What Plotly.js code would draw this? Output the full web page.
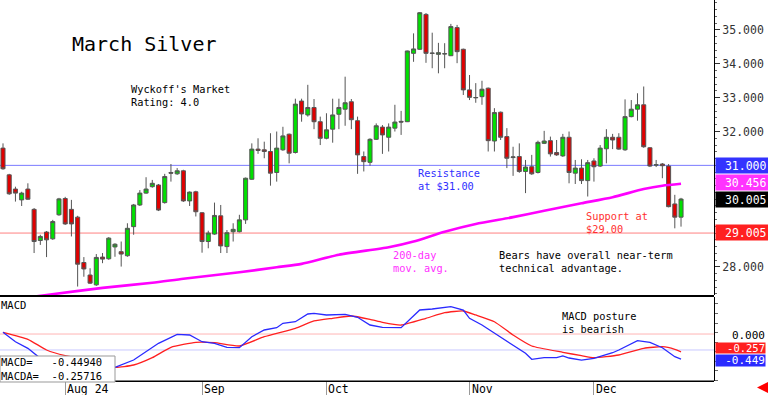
<!DOCTYPE html>
<html><head><meta charset="utf-8">
<script src="https://cdn.plot.ly/plotly-3.0.1.min.js"></script>
<style>html,body{margin:0;padding:0;background:#fff}#chart{width:768px;height:395px}</style>
</head><body><div id="chart"></div>
<script>
const dates = [
'2024-07-18','2024-07-19','2024-07-22','2024-07-23','2024-07-24','2024-07-25','2024-07-26','2024-07-29','2024-07-30','2024-07-31',
'2024-08-01','2024-08-02','2024-08-05','2024-08-06','2024-08-07','2024-08-08','2024-08-09','2024-08-12','2024-08-13','2024-08-14','2024-08-15','2024-08-16','2024-08-19','2024-08-20','2024-08-21','2024-08-22','2024-08-23','2024-08-26','2024-08-27','2024-08-28','2024-08-29','2024-08-30',
'2024-09-03','2024-09-04','2024-09-05','2024-09-06','2024-09-09','2024-09-10','2024-09-11','2024-09-12','2024-09-13','2024-09-16','2024-09-17','2024-09-18','2024-09-19','2024-09-20','2024-09-23','2024-09-24','2024-09-25','2024-09-26','2024-09-27','2024-09-30',
'2024-10-01','2024-10-02','2024-10-03','2024-10-04','2024-10-07','2024-10-08','2024-10-09','2024-10-10','2024-10-11','2024-10-14','2024-10-15','2024-10-16','2024-10-17','2024-10-18','2024-10-21','2024-10-22','2024-10-23','2024-10-24','2024-10-25','2024-10-28','2024-10-29','2024-10-30','2024-10-31',
'2024-11-01','2024-11-04','2024-11-05','2024-11-06','2024-11-07','2024-11-08','2024-11-11','2024-11-12','2024-11-13','2024-11-14','2024-11-15','2024-11-18','2024-11-19','2024-11-20','2024-11-21','2024-11-22','2024-11-25','2024-11-26','2024-11-27','2024-11-29',
'2024-12-02','2024-12-03','2024-12-04','2024-12-05','2024-12-06','2024-12-09','2024-12-10','2024-12-11','2024-12-12','2024-12-13','2024-12-16','2024-12-17','2024-12-18','2024-12-19','2024-12-20'];

const openP = [31.51,30.72,30.30,29.98,30.30,29.70,28.78,29.03,28.83,29.54,
30.02,29.70,29.47,28.13,27.76,27.47,28.29,28.24,28.59,28.45,28.33,29.19,29.83,30.18,30.37,30.42,29.90,30.79,30.75,30.84,29.95,30.22,
29.60,28.75,28.97,29.51,28.60,29.04,29.04,29.39,30.59,31.48,31.46,31.41,30.79,31.46,31.92,31.38,32.90,32.49,32.71,32.29,
31.80,32.07,32.51,32.66,32.88,32.32,31.26,31.09,31.77,32.13,31.83,32.10,32.30,32.29,34.31,34.43,35.46,34.32,34.28,34.29,34.24,35.07,34.43,
33.23,32.995,33.03,33.28,31.72,32.57,31.85,31.23,31.26,30.82,30.96,30.79,31.65,31.73,31.38,31.28,31.83,30.77,30.92,30.55,
31.13,30.98,31.49,31.83,31.83,31.46,32.44,32.66,32.79,31.52,31.007,31.04,30.98,29.86,29.47];
const highP = [31.65,30.75,30.37,30.22,30.47,29.74,28.95,29.06,29.39,30.04,
30.07,29.98,29.51,28.29,27.96,28.38,28.41,28.88,28.70,28.75,29.29,29.86,30.27,30.65,30.57,30.45,30.75,31.04,30.92,30.87,30.23,30.25,
29.62,29.07,29.90,29.83,29.09,29.29,29.54,30.64,31.65,31.80,31.70,31.95,32.00,32.14,31.94,32.97,32.97,33.38,32.96,32.44,
32.54,32.97,32.97,33.62,32.96,32.44,31.41,31.80,32.24,32.19,32.24,32.79,32.61,34.39,34.90,35.53,35.50,34.92,34.62,34.61,35.18,35.15,34.45,
33.67,33.43,33.50,33.30,32.69,32.59,32.10,31.55,31.65,31.16,31.31,31.73,32.02,31.85,31.75,31.93,32.00,31.16,31.18,31.16,
31.21,31.60,32.07,31.93,31.95,32.95,32.93,33.13,33.33,31.54,31.16,31.07,31.04,30.13,30.04];
const lowP = [30.87,30.13,29.93,29.80,29.98,28.41,28.65,28.29,28.80,29.51,
29.24,28.90,27.42,27.71,27.50,27.44,28.11,28.21,28.30,28.01,28.30,28.95,29.80,30.16,30.34,29.65,29.87,30.52,30.72,29.92,29.80,29.49,
28.42,28.55,28.95,28.41,28.41,28.75,29.02,29.27,30.57,31.34,31.21,30.40,30.52,31.43,31.06,31.35,32.29,32.44,32.07,31.60,
31.77,31.67,32.07,32.17,32.07,30.75,30.82,30.99,31.75,31.34,31.41,32.00,31.90,32.28,34.06,34.41,34.03,33.87,33.72,33.87,34.23,34.02,33.08,
32.93,32.85,32.79,31.41,31.41,31.75,30.92,30.69,30.78,30.18,30.72,30.76,31.63,31.26,31.28,31.25,30.47,30.45,30.45,30.08,
30.52,30.95,31.06,31.48,31.46,31.43,32.42,32.32,31.52,30.95,30.95,30.62,29.76,29.14,29.19];
const closeP = [30.90,30.16,30.18,30.18,30.00,28.75,28.90,28.80,29.34,30.01,
29.27,29.27,28.08,27.94,27.52,28.28,28.23,28.85,28.67,28.38,29.14,29.83,30.18,30.30,30.47,29.68,30.67,30.77,30.84,29.95,30.21,29.63,
28.75,29.00,29.52,28.62,29.01,29.11,29.39,30.62,31.48,31.44,31.41,30.77,31.51,31.87,31.36,32.81,32.52,32.71,32.29,31.80,
32.05,32.49,32.71,32.85,32.35,31.31,31.11,31.77,32.17,31.90,32.13,32.28,32.28,34.38,34.44,35.51,34.31,34.31,34.33,34.30,35.10,34.36,33.23,
33.01,33.005,33.25,31.73,32.56,31.83,31.21,31.25,30.82,30.95,30.75,31.68,31.72,31.34,31.31,31.83,30.79,30.92,30.55,31.08,
30.96,31.51,31.83,31.75,31.48,32.44,32.66,32.79,31.55,30.98,31.02,30.99,29.78,29.47,30.005];

// 200-day moving average, read at selected sessions (index into dates)
const maIdx = [0,7,16,24,29,38,44,48,54,62,66,71,76,82,87,93,98,103,106,109];
const maVal = [27.00,27.17,27.38,27.53,27.65,27.84,27.99,28.09,28.36,28.58,28.75,29.04,29.27,29.47,29.66,29.88,30.06,30.30,30.40,30.456];

// MACD (blue) and MACDA signal (red), read at selected sessions
const macdIdx = [0,2,4,6,9,13,16,18,21,23,25,28,30,32,34,36,38,40,42,44,45,47,49,50,52,55,57,59,61,64,67,69,72,74,75,77,79,82,84,85,87,89,90,91,93,95,98,99,102,104,106,108,109];
const macdVal = [0.255,0.008,-0.166,-0.429,-0.58,-0.68,-0.71,-0.666,-0.474,-0.255,-0.034,0.203,0.184,0.008,-0.034,-0.139,-0.15,0.139,0.316,0.376,0.492,0.534,0.737,0.755,0.711,0.729,0.65,0.447,0.387,0.376,0.842,0.868,0.929,0.842,0.624,0.447,0.229,-0.079,-0.297,-0.455,-0.413,-0.413,-0.368,-0.421,-0.474,-0.429,-0.282,-0.21,0.034,-0.008,-0.15,-0.387,-0.4494];
const sigIdx = [0,4,7,10,13,16,18,21,24,27,31,34,38,42,47,50,53,56,59,61,64,68,71,74,76,79,82,85,90,93,95,99,103,106,108,109];
const sigVal = [0.255,0.071,-0.21,-0.36,-0.447,-0.55,-0.666,-0.605,-0.413,-0.139,-0.008,-0.018,-0.105,0.139,0.361,0.553,0.624,0.684,0.597,0.518,0.447,0.624,0.771,0.816,0.711,0.534,0.184,-0.105,-0.271,-0.361,-0.413,-0.342,-0.166,-0.124,-0.192,-0.2572];

const monthTickDates = ['2024-08-01','2024-09-03','2024-10-01','2024-11-01','2024-12-02'];
const monthTickText = ['Aug 24','Sep','Oct','Nov','Dec'];
const priceTicks = [28,32,33,34,35];   // 29, 30, 31 are hidden behind the value boxes

const MONO = 'DejaVu Sans Mono';
const W = 714, H = 381; // plot area in px
const px = x => x / W;
const py = y => (H - y) / H;

const traces = [
  {type:'candlestick', x:dates, open:openP, high:highP, low:lowP, close:closeP,
   xaxis:'x', yaxis:'y', whiskerwidth:0, hoverinfo:'skip',
   increasing:{line:{color:'#555555', width:1}, fillcolor:'#00e000'},
   decreasing:{line:{color:'#555555', width:1}, fillcolor:'#e00000'}},
  {type:'scatter', mode:'lines', x:maIdx.map(i=>dates[i]), y:maVal, xaxis:'x', yaxis:'y',
   line:{color:'#ff00ff', width:2.6, shape:'spline', smoothing:0.6}, hoverinfo:'skip'},
  {type:'scatter', mode:'lines', x:sigIdx.map(i=>dates[i]), y:sigVal, xaxis:'x', yaxis:'y2',
   line:{color:'#ff2020', width:1.3, shape:'spline', smoothing:0.5}, hoverinfo:'skip'},
  {type:'scatter', mode:'lines', x:macdIdx.map(i=>dates[i]), y:macdVal, xaxis:'x', yaxis:'y2',
   line:{color:'#2a2aff', width:1.3}, hoverinfo:'skip'}
];

function boxLabel(text, yv, yref, bg, fg, h, fs, pad){
  return {xref:'paper', x:1, xanchor:'left', xshift:1, yref:yref, y:yv, yanchor:'middle',
    text:text, showarrow:false, bgcolor:bg, width:49, height:h||12,
    borderpad:(pad===undefined?1.5:pad), align:'right',
    font:{family:MONO, size:fs||11.5, color:fg}};
}
function txt(text, x, y, color, size){
  return {xref:'paper', yref:'paper', x:px(x), y:py(y), xanchor:'left', yanchor:'middle',
    text:text, showarrow:false, align:'left', borderpad:0,
    font:{family:MONO, size:size||10.3, color:color||'#000'}};
}

const annotations = [
  txt('March Silver', 71, 43.5, '#000', 20),
  txt("Wyckoff's Market<br>Rating: 4.0", 130, 95.5),
  txt('Resistance<br>at $31.00', 417, 179.5, '#3030ff'),
  txt('200-day<br>mov. avg.', 392, 261, '#ff30ff'),
  txt('Support at<br>$29.00', 585, 222.5, '#ff3030'),
  txt('Bears have overall near-term<br>technical advantage.', 498, 261.5),
  txt('MACD posture<br>is bearish', 561, 322.5),
  txt('MACD', 0, 305, '#000', 10.5),
  txt('MACD=\u00a0\u00a0\u00a0-0.44940<br>MACDA=\u00a0\u00a0-0.25716', 0, 368.5, '#000', 10.5),
  boxLabel('31.000', 31.0, 'y', '#3333ff', '#ffffff'),
  boxLabel('30.456', 30.50, 'y', '#ff33ff', '#ffffff'),
  boxLabel('30.005', 30.005, 'y', '#000000', '#ffffff'),
  boxLabel('29.005', 29.005, 'y', '#ff2020', '#ffffff'),
  boxLabel('-0.257', -0.15, 'y2', '#ff2020', '#ffffff', 10, 10.5, 0),
  boxLabel('-0.449', -0.48, 'y2', '#2a2aff', '#ffffff', 11, 11, 0),
  {xref:'paper', x:1, xanchor:'left', xshift:1, yref:'y2', y:0.18, yanchor:'middle', text:'0.000', showarrow:false,
   width:49, height:10, borderpad:0, align:'right', font:{family:MONO, size:11, color:'#000'}},
  {xref:'paper', yref:'paper', x:px(757), y:py(387.5), text:'', showarrow:true, ax:9, ay:0,
   arrowhead:2, arrowsize:0.8, arrowwidth:3, arrowcolor:'#ff0000'}
];
monthTickDates.forEach((d,i)=>{
  annotations.push({xref:'x', x:d, xanchor:'left', xshift:0, yref:'paper', y:py(388.5), yanchor:'middle',
    text:monthTickText[i], showarrow:false, font:{family:MONO, size:11.5, color:'#000'}});
});

const shapes = [
  {type:'line', xref:'paper', x0:0, x1:1, yref:'y', y0:31, y1:31, line:{color:'#7a7aff', width:1}, layer:'below'},
  {type:'line', xref:'paper', x0:0, x1:1, yref:'y', y0:29, y1:29, line:{color:'#ff8080', width:1}, layer:'below'},
  {type:'line', xref:'paper', x0:0, x1:1, yref:'y2', y0:0.21, y1:0.21, line:{color:'#ffb4b4', width:1}, layer:'below'},
  {type:'line', xref:'paper', x0:0, x1:1, yref:'y2', y0:-0.21, y1:-0.21, line:{color:'#c8c8ff', width:1}, layer:'below'},
  {type:'line', xref:'paper', x0:0, x1:1, yref:'paper', y0:py(296), y1:py(296), line:{color:'#000', width:2}},
  {type:'line', xref:'paper', x0:0, x1:1, yref:'paper', y0:py(381.3), y1:py(381.3), line:{color:'#000', width:1.5}},
  {type:'rect', xref:'paper', yref:'paper', x0:0, x1:px(115), y0:py(382), y1:py(356),
   fillcolor:'#ffffff', line:{color:'#999999', width:1}, layer:'above'}
];

const layout = {
  width:768, height:395,
  margin:{l:0, r:54, t:0, b:14, pad:0},
  paper_bgcolor:'#ffffff', plot_bgcolor:'#ffffff',
  showlegend:false,
  boxgap:0.2, boxgroupgap:0.19,
  xaxis:{type:'category', range:[-0.482, 114.3], anchor:'y2', rangeslider:{visible:false},
    showgrid:false, zeroline:false, showline:false, tickvals:monthTickDates,
    ticktext:monthTickDates.map(()=>''), ticks:'outside', ticklen:14, tickcolor:'#999', tickwidth:1},
  yaxis:{domain:[py(295), 1], range:[27.17, 35.886], side:'right', showgrid:false, zeroline:false,
    tickvals:priceTicks, tickformat:'.3f', ticks:'outside', ticklen:5, tickcolor:'#333',
    showline:true, linecolor:'#000', linewidth:1, anchor:'x',
    tickfont:{family:MONO, size:11.5, color:'#333'},
    minor:{dtick:0.2, ticks:'outside', ticklen:2, tickcolor:'#666'}},
  yaxis2:{domain:[0, py(297)], range:[-1.026, 1.184], side:'right', showgrid:false, zeroline:false,
    showticklabels:false, ticks:'outside', ticklen:3, dtick:0.25, tickcolor:'#666',
    showline:true, linecolor:'#000', linewidth:1, anchor:'x'},
  shapes:shapes, annotations:annotations
};

Plotly.newPlot('chart', traces, layout, {staticPlot:true, displayModeBar:false});
</script>
</body></html>
